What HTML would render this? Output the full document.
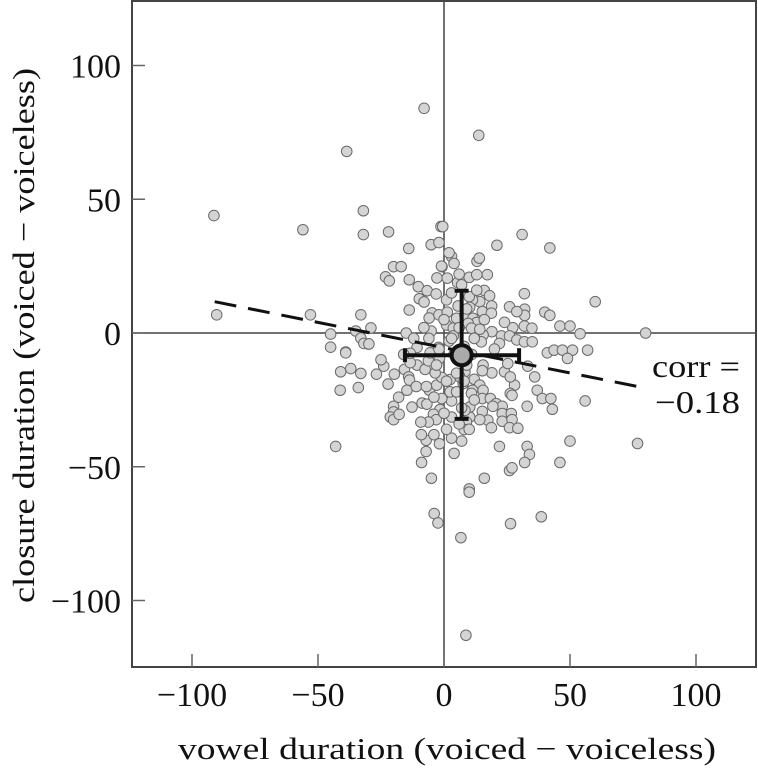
<!DOCTYPE html>
<html><head><meta charset="utf-8"><style>
body{margin:0;background:#fff}
svg{display:block;font-family:"Liberation Serif",serif}
</style></head><body>
<svg id="chart" width="758" height="772" viewBox="0 0 758 772" xmlns="http://www.w3.org/2000/svg"></svg>
<script>
const xVals=[-56,-32,-32,-22,-14,-5.1,-2,-1.2,-20,-17,-23.2,-21.7,-13.8,-0.8,-2.8,-10.2,-6.7,-9.8,-7.9,-3.1,-53,-33,-13.8,-29,-35,-45,-15,-5.1,-4.7,-5.9,-2,-45,-33,-30,-39,
31,21,42,3,13.1,-0.5,10,13,17.2,5.4,1.3,16,18.1,31.9,60,26,32,32,28.9,40,42,14.2,18.9,15.2,11.3,10,10.2,18.8,31.9,34.9,46,50,54,27.3,19,22.8,26,28.9,31.9,35,15.5,12.2,14.8,22,1,1.3,1,3.7,3.7,5.6,5,8.3,11.5,12.9,9.6,10.9,14.2,
41,43.7,47,51,57,49,33.2,36,37,39,42.4,43,56,33,28,26.3,27,24,26.3,25.3,19,15.5,12,14.2,15.5,11.3,15.2,18.4,20.7,23.1,19.4,15.2,23.1,26.7,23.1,27,26,29.3,17.4,14.2,18.8,10.2,8.9,8,3,7,3,10.2,8.3,10.9,7.6,3,2.4,2.4,8.3,6.3,15.2,22,33,33.9,32,26,27,46,50,16,10,10,
-39,-31.8,-29.8,-41,-37,-33,-26.8,-23.9,-19.7,-15.7,-14,-13.7,-22.2,-14.7,-5.8,-41.2,-34,-20,-20,-21.3,-20,-17.8,-12.7,-8.7,-6.8,-1.6,-4.2,-3.1,-6.2,-9.2,-0.9,-2.9,-0.9,-7.1,-7.1,-1.8,-8.9,-5,-43,-10.7,-7.5,-2.9,-3.5,-1.8,-13.4,-6.2,-10.7,-2.2,-5.5,-13.4,
-7.9,13.8,-38.6,-91.3,-90.2,80,76.8,38.6,26.4,6.7,8.7,-3.9,-2.4,
0,2,4,-3,6,8,1,5,9,-2,3,7,11,12,-1,2,7,10,4,-4,6,13,16,9,-6,-8,5,12,0,3,
-11,-9,-4,1,6,-12,-16,20,24,-18,-25,4,8,-7,14];
const yVals=[38.6,45.7,36.8,37.8,31.6,33,33.8,39.8,24.8,24.8,21,19.5,19.9,24.8,20.6,17.3,15.8,12.8,11.6,14.6,6.8,6.8,8.6,1.9,0.75,-0.4,0,0.75,7.5,5.6,6.8,-5.3,-1.9,-4.1,-7.1,
36.8,32.8,31.8,28.6,26.8,39.8,20.8,21.8,21.8,18.9,20.5,15.9,13.9,14.7,11.7,9.8,8.9,6.6,8,7.8,6.6,11.7,10.1,8,12.4,13.6,9.6,7.4,2.6,1.8,2.6,2.6,-0.3,2,0.5,-1.1,-1.1,-2.6,-3.3,-3.3,-0.75,-2,-3.3,-3.9,12.4,7.8,3,1.8,-1.1,10.1,5.5,6.8,5.5,3.9,3.6,1.8,1.4,
-7.4,-6.4,-6.4,-6.4,-6.4,-9.5,-12.4,-16.4,-21.4,-24.5,-24.5,-28.5,-25.4,-27.4,-19.5,-22.6,-23.3,-14.5,-16.4,-11.4,-14.9,-12,-17.3,-19.5,-21.4,-21.4,-24.5,-24.5,-26.4,-27.4,-27.4,-29.3,-30.1,-30.1,-33,-32.4,-35.4,-35.6,-32.6,-32.4,-35.4,-31.4,-33.3,-36.1,-39.3,-40.4,-31.4,-27.7,-28.9,-22.6,-18.9,-25.4,-22,-17.4,-14.5,-16.4,-14.1,-42.4,-42.4,-45.4,-48.4,-51.4,-50.4,-48.4,-40.4,-54.3,-58.3,-59.5,
-7.4,-3.9,-4.1,-14.5,-13.3,-15.1,-15.4,-12.4,-15.4,-13.6,-16.4,-17.6,-19.1,-21.4,-21.4,-21.4,-20.4,-27.4,-29.5,-31.4,-32.4,-30.4,-27.7,-26.2,-26.6,-28.6,-30.4,-32.4,-33.3,-33.3,-24.5,-19.5,-16.6,-40.1,-44.3,-41.4,-48.4,-54.3,-42.4,-12,-13.6,-11.6,-14.9,-9.5,-11.1,-10.4,-5.4,-5.4,-7.4,-7.6,
84,73.9,67.9,43.9,6.8,0,-41.3,-68.7,-71.3,-76.5,-113,-67.5,-71,
5,-3,-8,-12,2,-5,-18,-22,-12,-6,15,18,-8,-2,25,30,-28,-36,-45,-38,22,16,5,9,-2,2,-15,-25,-30,-2,
-20,-38,-24,-36,-34,-2,-8,-6,4,-24,-10,26,-18,-20,28];
const xTicks=[-100,-50,0,50,100];
const yTicks=[-100,-50,0,50,100];
const meanX=[7], meanY=[-8.3], sdX=[-15.5,29.8], sdY=[-32.1,15.8];
const fitX=[-91,80], fitY=[11.7,-20.6];
const corrLabel=["corr =","\u22120.18"];

const svg=document.getElementById('chart');
const NS='http://www.w3.org/2000/svg';
const L=132,R=756,T=1,B=667;
const sx=v=>444+v*2.52;
const sy=v=>333-v*2.675;
function mk(tag,attrs,parent){const e=document.createElementNS(NS,tag);for(const k in attrs)e.setAttribute(k,attrs[k]);(parent||svg).appendChild(e);return e;}

const fr=mk('rect',{x:L,y:T,width:R-L,height:B-T,fill:'none',stroke:'#444','stroke-width':2});


const zx=mk('line',{x1:L,x2:R,y1:sy(0),y2:sy(0),stroke:'#444','stroke-width':1.5});


const zy=mk('line',{x1:sx(0),x2:sx(0),y1:T,y2:B,stroke:'#444','stroke-width':1.5});



xTicks.forEach(t=>{
  const l=mk('line',{x1:sx(t),x2:sx(t),y1:B,y2:B-13,stroke:'#666','stroke-width':1.5});
  
  
  const tx=mk('text',{x:sx(t),y:706,'text-anchor':'middle','font-size':34,fill:'#111'});
  tx.textContent=(t<0?'\u2212':'')+Math.abs(t);
  
  
});
yTicks.forEach(t=>{
  const l=mk('line',{x1:L,x2:L+13,y1:sy(t),y2:sy(t),stroke:'#666','stroke-width':1.5});
  
  
  const tx=mk('text',{x:121,y:sy(t)+12,'text-anchor':'end','font-size':34,fill:'#111'});
  tx.textContent=(t<0?'\u2212':'')+Math.abs(t);
  
  
});

const g=mk('g',{});


for(let i=0;i<xVals.length;i++){
  const c=mk('circle',{cx:sx(xVals[i]),cy:sy(yVals[i]),r:5.3,fill:'#d4d4d4',stroke:'#6a6a6a','stroke-width':1},g);
  
  
}

const fit=mk('line',{x1:sx(fitX[0]),y1:sy(fitY[0]),x2:sx(fitX[1]),y2:sy(fitY[1]),stroke:'#111','stroke-width':3,'stroke-dasharray':'22 12'});



const eb=mk('g',{stroke:'#111','stroke-width':4,fill:'none'});


mk('line',{x1:sx(sdX[0]),x2:sx(sdX[1]),y1:sy(meanY[0]),y2:sy(meanY[0])},eb);
mk('line',{x1:sx(sdX[0]),x2:sx(sdX[0]),y1:sy(meanY[0])-7,y2:sy(meanY[0])+7},eb);
mk('line',{x1:sx(sdX[1]),x2:sx(sdX[1]),y1:sy(meanY[0])-7,y2:sy(meanY[0])+7},eb);
mk('line',{x1:sx(meanX[0]),x2:sx(meanX[0]),y1:sy(sdY[0]),y2:sy(sdY[1])},eb);
mk('line',{x1:sx(meanX[0])-7,x2:sx(meanX[0])+7,y1:sy(sdY[0]),y2:sy(sdY[0])},eb);
mk('line',{x1:sx(meanX[0])-7,x2:sx(meanX[0])+7,y1:sy(sdY[1]),y2:sy(sdY[1])},eb);
const m=mk('circle',{cx:sx(meanX[0]),cy:sy(meanY[0]),r:10,fill:'#aaa',stroke:'#111','stroke-width':4});



const c1=mk('text',{x:652,y:377,'font-size':32,fill:'#111',textLength:88,lengthAdjust:'spacingAndGlyphs'});
c1.textContent=corrLabel[0];


const c2=mk('text',{x:655,y:413,'font-size':32,fill:'#111',textLength:85,lengthAdjust:'spacingAndGlyphs'});
c2.textContent=corrLabel[1];



const xt=mk('text',{x:178,y:759,'font-size':31,fill:'#111',textLength:538,lengthAdjust:'spacingAndGlyphs'});
xt.textContent='vowel duration (voiced \u2212 voiceless)';


const yt=mk('text',{x:0,y:0,'font-size':31,fill:'#111',textLength:535,lengthAdjust:'spacingAndGlyphs',transform:'translate(34,603) rotate(-90)'});
yt.textContent='closure duration (voiced \u2212 voiceless)';


</script>
</body></html>
